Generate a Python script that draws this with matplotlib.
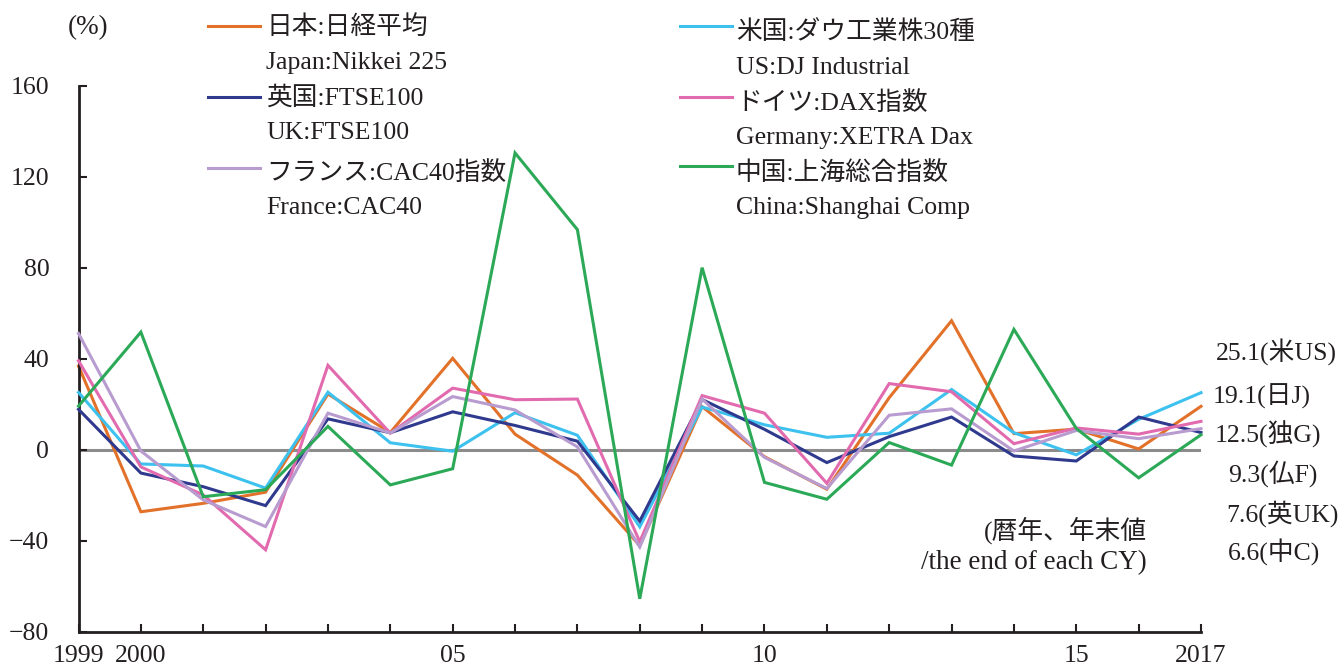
import matplotlib
matplotlib.use("Agg")
import matplotlib.pyplot as plt
from matplotlib.lines import Line2D

plt.rcParams['font.family'] = ['Liberation Serif', 'Noto Sans CJK JP', 'DejaVu Sans']

years = list(range(1999, 2018))
japan = [36.8, -27.2, -23.5, -18.6, 24.5, 7.6, 40.2, 6.9, -11.1, -42.1, 19.0, -3.0, -17.3, 22.9, 56.7, 7.1, 9.1, 0.4, 19.1]
us = [25.2, -6.2, -7.1, -16.8, 25.3, 3.1, -0.6, 16.3, 6.4, -33.8, 18.8, 11.0, 5.5, 7.3, 26.5, 7.5, -2.2, 13.4, 25.1]
uk = [17.8, -10.2, -16.2, -24.5, 13.6, 7.5, 16.7, 10.7, 3.8, -31.3, 22.1, 9.0, -5.6, 5.8, 14.4, -2.7, -4.9, 14.4, 7.6]
germany = [39.1, -7.5, -19.8, -43.9, 37.1, 7.3, 27.1, 22.0, 22.3, -40.4, 23.8, 16.1, -14.7, 29.1, 25.5, 2.7, 9.6, 6.9, 12.5]
france = [51.1, -0.5, -22.0, -33.7, 16.1, 7.4, 23.4, 17.5, 1.3, -42.7, 22.3, -3.3, -17.0, 15.2, 18.0, -0.5, 8.5, 4.9, 9.3]
china = [19.2, 51.7, -20.6, -17.5, 10.3, -15.4, -8.3, 130.4, 96.7, -65.4, 80.0, -14.3, -21.7, 3.2, -6.7, 52.9, 9.4, -12.3, 6.6]

series_names = ["日本:日経平均\nJapan:Nikkei 225", "米国:ダウ工業株30種\nUS:DJ Industrial",
                "英国:FTSE100\nUK:FTSE100", "ドイツ:DAX指数\nGermany:XETRA Dax",
                "フランス:CAC40指数\nFrance:CAC40", "中国:上海総合指数\nChina:Shanghai Comp"]
end_abbr = ["日J", "米US", "英UK", "独G", "仏F", "中C"]
yticks = [-80, -40, 0, 40, 80, 120, 160]
xtick_labels = {1999: "1999", 2000: "2000", 2005: "05", 2010: "10", 2015: "15", 2017: "2017"}

colors = ['#E2712A', '#3DC1EE', '#2F3A8E', '#E16BAE', '#B89CD0', '#2BA957']
data = [japan, us, uk, germany, france, china]

W, H = 1342, 668
fig = plt.figure(figsize=(W / 100, H / 100), dpi=100)

def fx(x):
    return x / W

def fy(y):
    return 1 - y / H

ax = fig.add_axes([fx(78.5), fy(632), fx(1201) - fx(78.5), fy(85.5) - fy(632)])

ax.axhline(0, color='#8C8C8C', lw=2.2, zorder=1)
for i in range(len(data)):
    ax.plot(years, data[i], color=colors[i], lw=2.2, zorder=2 + i, clip_on=False,
            solid_joinstyle='miter')

ax.set_xlim(1999, 2017)
ax.set_ylim(-80, 160)
ax.set_yticks(yticks)
ax.set_yticklabels([("−" + str(abs(v))) if v < 0 else str(v) for v in yticks])
ax.set_xticks(years)
ax.set_xticklabels([xtick_labels.get(y, "") for y in years])

for s in ['top', 'right']:
    ax.spines[s].set_visible(False)
for s in ['left', 'bottom']:
    ax.spines[s].set_linewidth(2.0)
    ax.spines[s].set_color('#231F20')

ax.tick_params(axis='y', direction='in', length=6, width=1.5, color='#231F20',
               labelsize=18.5, pad=21, labelcolor='#231F20')
ax.tick_params(axis='x', direction='in', length=6, width=1.5, color='#231F20',
               labelsize=18.5, pad=9, labelcolor='#231F20')

fs = 18.5
fig.text(fx(68), fy(28), "(%)", fontsize=19.5, va='center', ha='left', color='#231F20')

# legend (manual, two columns)
left_rows = [(27, 63), (98, 133), (173, 208)]
right_rows = [(32, 68), (103, 138), (173, 208)]
left_handles = [26, 97, 168]
right_handles = [26, 97, 166]
for k in range(3):
    idx = 2 * k
    l1, l2 = series_names[idx].split("\n")
    fig.add_artist(Line2D([fx(208), fx(260)], [fy(left_handles[k])] * 2, color=colors[idx], lw=2.2))
    fig.text(fx(266), fy(left_rows[k][0]), l1, fontsize=fs, va='center', ha='left', color='#231F20')
    fig.text(fx(266), fy(left_rows[k][1]), l2, fontsize=fs, va='center', ha='left', color='#231F20')
    idx = 2 * k + 1
    r1, r2 = series_names[idx].split("\n")
    fig.add_artist(Line2D([fx(680), fx(732)], [fy(right_handles[k])] * 2, color=colors[idx], lw=2.2))
    fig.text(fx(736), fy(right_rows[k][0]), r1, fontsize=fs, va='center', ha='left', color='#231F20')
    fig.text(fx(736), fy(right_rows[k][1]), r2, fontsize=fs, va='center', ha='left', color='#231F20')

# end-value labels (ordered top to bottom)
label_order = [1, 0, 3, 4, 2, 5]
label_pos = [(1216, 352), (1213, 396), (1215, 434), (1228, 474), (1226, 514), (1228, 552)]
for (px, py), i in zip(label_pos, label_order):
    fig.text(fx(px), fy(py), f"{data[i][-1]:.1f}({end_abbr[i]})", fontsize=fs,
             va='center', ha='left', color='#231F20')

fig.text(fx(1147), fy(530), "(暦年、年末値", fontsize=fs, va='center', ha='right', color='#231F20')
fig.text(fx(1147), fy(563), "/the end of each CY)", fontsize=19.5, va='center', ha='right', color='#231F20')

fig.savefig("out.png", dpi=100)
